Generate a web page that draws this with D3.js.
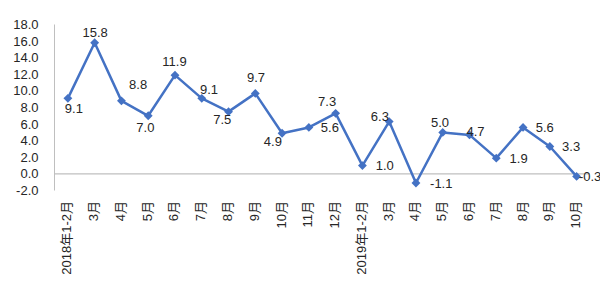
<!DOCTYPE html>
<html><head><meta charset="utf-8">
<script src="https://cdn.jsdelivr.net/npm/d3@7"></script>
<style>body{margin:0;background:#fff}svg{display:block}</style>
</head><body>
<svg id="c" width="600" height="300"></svg>
<script>
const categories = ["2018年1-2月","3月","4月","5月","6月","7月","8月","9月","10月","11月","12月",
  "2019年1-2月","3月","4月","5月","6月","7月","8月","9月","10月"];
const values = [9.1,15.8,8.8,7.0,11.9,9.1,7.5,9.7,4.9,5.6,7.3,1.0,6.3,-1.1,5.0,4.7,1.9,5.6,3.3,-0.3];
const yTicks = [-2,0,2,4,6,8,10,12,14,16,18];
// data label offsets relative to point (label placement)
const labelOffsets = [[6,10.5],[0.5,-10],[16.7,-16],[-2.8,12],[-0.5,-14],[7.3,-8.5],[-6.3,8],[0.7,-15.5],
  [-9.2,8.6],[21,0.5],[-8.5,-12],[22.3,0],[-9.3,-4.7],[25.3,0],[-2.7,-9.5],[6,-3],[22.3,0],[21.7,0.5],[21.3,0],[13.5,0]];

const svg = d3.select("#c");
const font = "'Liberation Sans', Arial, 'Noto Sans CJK SC', sans-serif";
const x = d3.scaleBand().domain(d3.range(categories.length)).range([54.5, 590]);
const y = d3.scaleLinear().domain([-2,18]).range([190.5, 24.5]);
const cx = i => x(i) + x.bandwidth()/2;

// y axis line
svg.append("line").attr("x1",54.5).attr("x2",54.5).attr("y1",y(18)).attr("y2",y(-2))
  .attr("stroke","#bfbfbf").attr("stroke-width",1);
// zero line
svg.append("line").attr("x1",54.5).attr("x2",590).attr("y1",y(0)).attr("y2",y(0))
  .attr("stroke","#bfbfbf").attr("stroke-width",1.2);

// y tick labels
svg.selectAll("text.yt").data(yTicks).join("text").attr("class","yt")
  .attr("x",38.5).attr("y",d=>y(d)).attr("text-anchor","end").attr("dominant-baseline","central")
  .attr("font-family",font).attr("font-size",13).attr("fill","#262626")
  .text(d=>d3.format(".1f")(d).replace("−","-"));

// category labels
svg.selectAll("text.xt").data(categories).join("text").attr("class","xt")
  .attr("transform",(d,i)=>`translate(${cx(i)-1},201) rotate(-90)`)
  .attr("text-anchor","end").attr("dominant-baseline","central")
  .attr("font-family",font).attr("font-size",13).attr("fill","#262626")
  .text(d=>d);

// line
const line = d3.line().x((d,i)=>cx(i)).y(d=>y(d));
svg.append("path").datum(values).attr("d",line).attr("fill","none")
  .attr("stroke","#4472C4").attr("stroke-width",2.5).attr("stroke-linejoin","round");

// markers
svg.selectAll("path.m").data(values).join("path").attr("class","m")
  .attr("d",d3.symbol(d3.symbolDiamond2 || d3.symbolDiamond,50))
  .attr("transform",(d,i)=>`translate(${cx(i)},${y(d)})`)
  .attr("fill","#4472C4");

// data labels
svg.selectAll("text.dl").data(values).join("text").attr("class","dl")
  .attr("x",(d,i)=>cx(i)+labelOffsets[i][0]).attr("y",(d,i)=>y(d)+labelOffsets[i][1])
  .attr("text-anchor","middle").attr("dominant-baseline","central")
  .attr("font-family",font).attr("font-size",13).attr("fill","#262626")
  .text(d=>d3.format(".1f")(d).replace("−","-"));
</script>
</body></html>
